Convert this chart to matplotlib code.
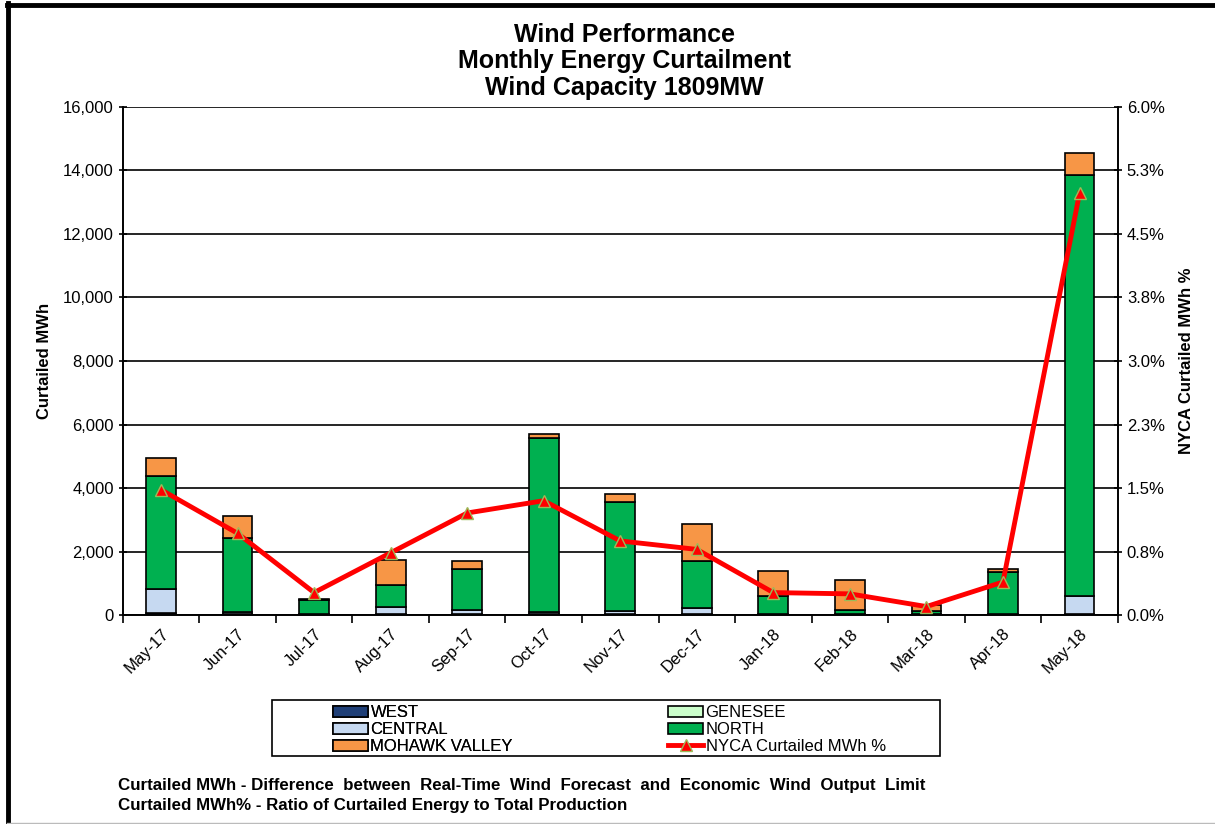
import matplotlib
matplotlib.use("Agg")
import matplotlib.pyplot as plt
import numpy as np
from matplotlib.patches import Rectangle
from matplotlib.lines import Line2D

plt.rcParams['font.family'] = ['Liberation Sans', 'DejaVu Sans']

months = ['May-17', 'Jun-17', 'Jul-17', 'Aug-17', 'Sep-17', 'Oct-17', 'Nov-17',
          'Dec-17', 'Jan-18', 'Feb-18', 'Mar-18', 'Apr-18', 'May-18']

# curtailed MWh by zone
west = [60, 20, 15, 30, 20, 20, 20, 25, 10, 10, 10, 15, 20]
genesee = [10, 5, 5, 5, 5, 5, 5, 5, 5, 5, 5, 5, 10]
central = [740, 60, 10, 230, 140, 60, 90, 190, 20, 30, 10, 20, 570]
north = [3580, 2330, 450, 670, 1275, 5490, 3435, 1470, 565, 120, 90, 1315, 13260]
mohawk = [565, 715, 35, 805, 260, 125, 260, 1185, 800, 935, 190, 95, 690]

# NYCA curtailed MWh %
nyca_pct = [1.48, 0.965, 0.265, 0.735, 1.205, 1.35, 0.875, 0.775, 0.265, 0.25, 0.1, 0.39, 4.98]

pct_ticks = [0, 0.75, 1.5, 2.25, 3.0, 3.75, 4.5, 5.25, 6.0]
pct_labels = ['0.0%', '0.8%', '1.5%', '2.3%', '3.0%', '3.8%', '4.5%', '5.3%', '6.0%']

fig = plt.figure(figsize=(12.15, 8.24), dpi=100)
ax = fig.add_axes([0.101, 0.2536, 0.819, 0.6166])
ax2 = ax.twinx()

x = np.arange(len(months))
w = 0.39
series = [
    ('WEST', west, '#1F3F77'),
    ('GENESEE', genesee, '#CCFFCC'),
    ('CENTRAL', central, '#C6D9F1'),
    ('NORTH', north, '#00B050'),
    ('MOHAWK VALLEY', mohawk, '#F79646'),
]
bottom = np.zeros(len(months))
handles = {}
for name, vals, col in series:
    b = ax.bar(x, vals, w, bottom=bottom, color=col, edgecolor='black',
               linewidth=1.2, label=name, zorder=3)
    handles[name] = b
    bottom += np.array(vals)

ln, = ax2.plot(x, nyca_pct, color='#FF0000', linewidth=3.5, marker='^',
               markersize=9, markerfacecolor='#FF0000', markeredgecolor='#9BBB59',
               markeredgewidth=1, zorder=5, label='NYCA Curtailed MWh %')

ax.set_xlim(-0.5, len(months) - 0.5)
ax.set_ylim(0, 16000)
ax.set_yticks(np.arange(0, 16001, 2000))
ax.set_yticklabels([f'{v:,}' for v in range(0, 16001, 2000)], fontsize=12)
ax.grid(axis='y', color='black', linewidth=1.2, zorder=0)
ax.set_axisbelow(True)

ax2.set_ylim(0, 6)
ax2.set_yticks(pct_ticks)
ax2.set_yticklabels(pct_labels, fontsize=12)

ax.set_xticks(x)
ax.set_xticklabels(months, rotation=45, ha='right', rotation_mode='anchor', fontsize=12)
ax.tick_params(axis='x', which='major', length=0, pad=8)
ax.set_xticks(np.arange(-0.5, len(months), 1), minor=True)
ax.tick_params(axis='x', which='minor', length=6, width=1.2, direction='out')
ax.tick_params(axis='y', length=6, width=1.2, direction='inout')
ax2.tick_params(axis='y', length=6, width=1.2, direction='inout')

for a in (ax, ax2):
    for s in a.spines.values():
        s.set_linewidth(1.2)
    a.spines['top'].set_visible(False)

ax.set_ylabel('Curtailed MWh', fontsize=12, fontweight='bold', labelpad=8)
ax2.set_ylabel('NYCA Curtailed MWh %', fontsize=12, fontweight='bold', labelpad=10)

fig.text(0.514, 0.879, 'Wind Performance\nMonthly Energy Curtailment\nWind Capacity 1809MW',
         ha='center', va='bottom', fontsize=18, fontweight='bold', linespacing=1.12)

# legend: frame drawn separately, two single-column legends inside it
fig.patches.append(Rectangle((272 / 1215, 1 - 756 / 824), 668 / 1215, 56 / 824,
                             transform=fig.transFigure, fill=False,
                             edgecolor='black', linewidth=1.2))
leg_kw = dict(loc='upper left', frameon=False, fontsize=12, handlelength=2.1,
              handleheight=0.65, handletextpad=0.15, labelspacing=0.12,
              borderpad=0, borderaxespad=0)
col1 = ['WEST', 'CENTRAL', 'MOHAWK VALLEY']
col2 = ['GENESEE', 'NORTH']
leg1 = fig.legend([handles[n] for n in col1], col1,
                  bbox_to_anchor=(333 / 1215, 1 - 705 / 824), **leg_kw)
fig.add_artist(leg1)
fig.legend([handles[n] for n in col2] + [ln], col2 + ['NYCA Curtailed MWh %'],
           bbox_to_anchor=(668 / 1215, 1 - 705 / 824), **leg_kw)

fig.text(0.097, 0.047, 'Curtailed MWh - Difference  between  Real-Time  Wind  Forecast  and  Economic  Wind  Output  Limit',
         fontsize=12.2, fontweight='bold', va='center')
fig.text(0.097, 0.022, 'Curtailed MWh% - Ratio of Curtailed Energy to Total Production',
         fontsize=12.2, fontweight='bold', va='center')

# chart-area border: thick top and left, thin grey bottom
fig.add_artist(Line2D([7 / 1215, 1], [1 - 4.5 / 824, 1 - 4.5 / 824],
                      transform=fig.transFigure, color='black', linewidth=3.5))
fig.add_artist(Line2D([7.5 / 1215, 7.5 / 1215], [0, 1 - 3 / 824],
                      transform=fig.transFigure, color='black', linewidth=3.5))
fig.add_artist(Line2D([7 / 1215, 1], [1.5 / 824, 1.5 / 824],
                      transform=fig.transFigure, color='#BBBBBB', linewidth=1))

fig.savefig('out.png', dpi=100)
